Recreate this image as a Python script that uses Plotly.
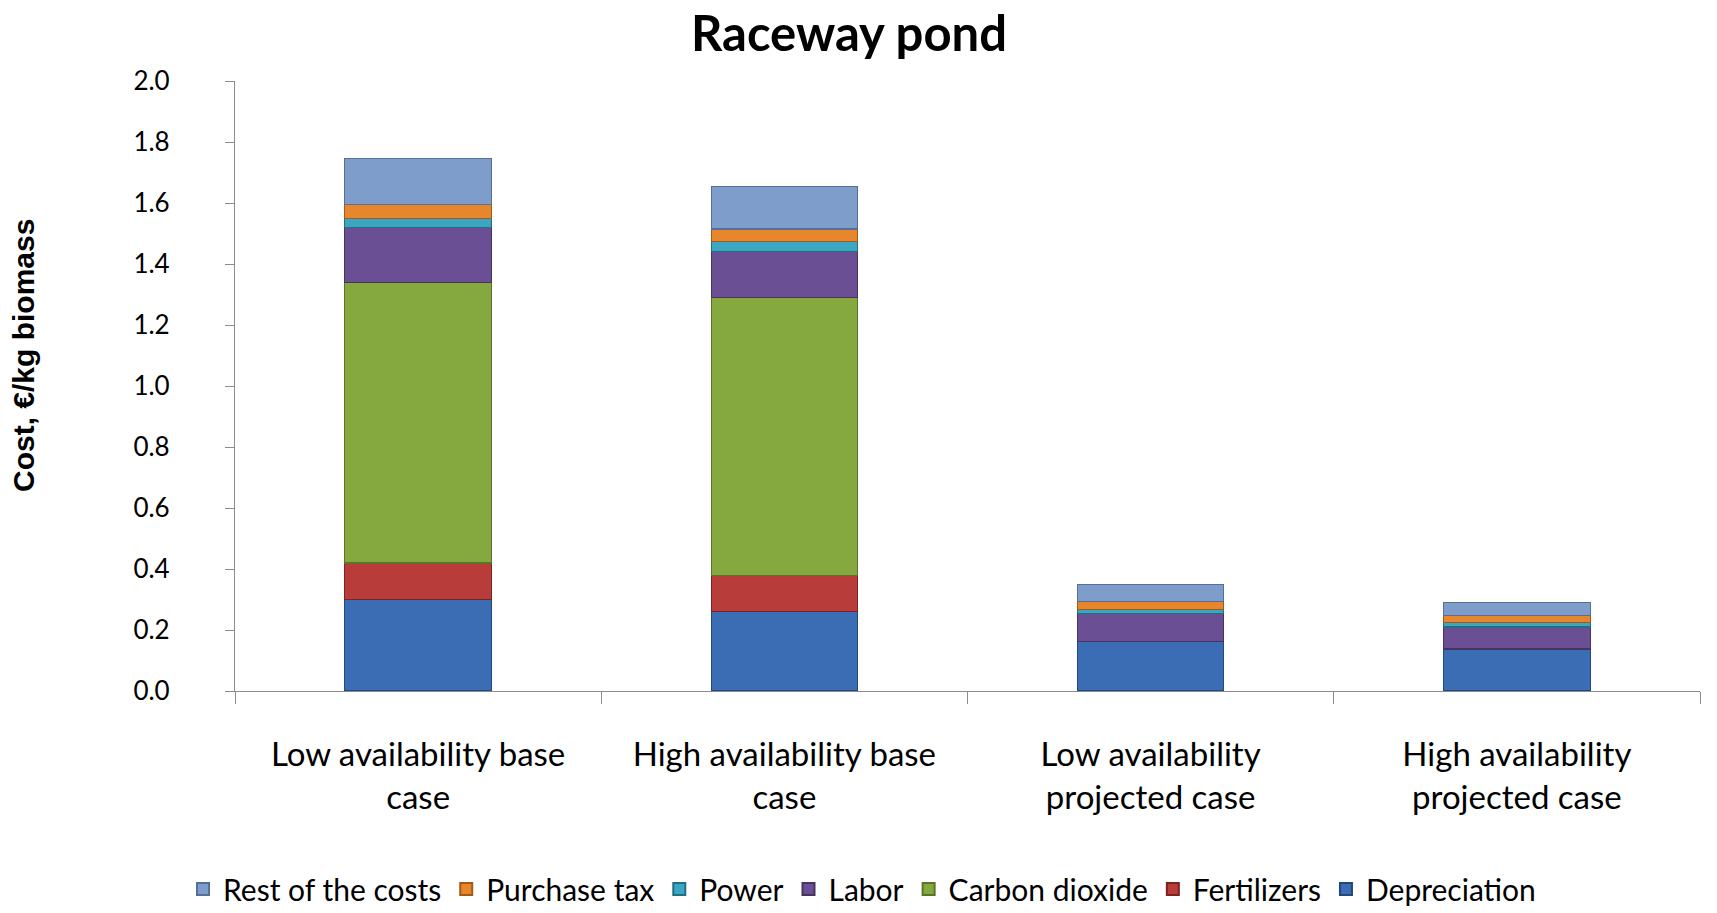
import plotly.graph_objects as go

# Cost breakdown of microalgae biomass produced in raceway ponds (€/kg biomass)
categories = [
    "Low availability base<br>case",
    "High availability base<br>case",
    "Low availability<br>projected case",
    "High availability<br>projected case",
]

depreciation = [0.30, 0.26, 0.163, 0.138]
fertilizers = [0.12, 0.12, 0.0, 0.0]
carbon_dioxide = [0.92, 0.91, 0.0, 0.0]
labor = [0.18, 0.15, 0.091, 0.072]
power = [0.03, 0.035, 0.013, 0.015]
purchase_tax = [0.046, 0.04, 0.027, 0.023]
rest_of_costs = [0.15, 0.14, 0.055, 0.043]

y_ticks = [0.0, 0.2, 0.4, 0.6, 0.8, 1.0, 1.2, 1.4, 1.6, 1.8, 2.0]

series = [
    ("Depreciation", depreciation, "#3a6db3", "#23487c"),
    ("Fertilizers", fertilizers, "#b83c39", "#7d2220"),
    ("Carbon dioxide", carbon_dioxide, "#86a93f", "#5a7528"),
    ("Labor", labor, "#6a4f94", "#46335f"),
    ("Power", power, "#3aa6c1", "#226f82"),
    ("Purchase tax", purchase_tax, "#e8862e", "#a45a17"),
    ("Rest of the costs", rest_of_costs, "#7f9dcb", "#556f98"),
]

fig = go.Figure()
for name, vals, color, edge in series:
    fig.add_trace(go.Bar(
        name=name,
        x=categories,
        y=vals,
        marker=dict(color=color, line=dict(color=edge, width=1.2)),
    ))

fig.update_layout(
    width=1717,
    height=913,
    barmode="stack",
    bargap=0.6,
    plot_bgcolor="white",
    paper_bgcolor="white",
    margin=dict(l=235, r=17, t=81, b=222),
    title=dict(
        text="<b>Raceway pond</b>",
        x=849 / 1717,
        xref="container",
        xanchor="center",
        y=1 - 34 / 913,
        yref="container",
        yanchor="middle",
        font=dict(family="Lato", size=49, color="black"),
    ),
    legend=dict(
        orientation="h",
        traceorder="reversed",
        xref="container",
        x=862 / 1717,
        xanchor="center",
        yref="container",
        y=1 - 889 / 913,
        yanchor="middle",
        font=dict(family="Lato", size=30, color="black"),
        itemwidth=30,
        itemsizing="constant",
    ),
    font=dict(family="Lato", color="black"),
)

fig.update_yaxes(
    range=[0, 2.0],
    tickvals=y_ticks,
    ticktext=[f"{v:.1f}" for v in y_ticks],
    showgrid=False,
    zeroline=False,
    showline=True,
    linecolor="#8c8c8c",
    linewidth=1.2,
    ticks="outside",
    ticklen=9,
    tickcolor="#8c8c8c",
    ticklabelstandoff=50,
    tickfont=dict(family="Lato", size=26, color="black"),
)

fig.update_xaxes(
    showgrid=False,
    showline=True,
    linecolor="#8c8c8c",
    linewidth=1.2,
    ticks="outside",
    tickson="boundaries",
    ticklen=12,
    tickcolor="#8c8c8c",
    ticklabelstandoff=34,
    tickfont=dict(family="Lato", size=33, color="black"),
)

fig.add_annotation(
    text="<b>Cost, €/kg biomass</b>",
    textangle=-90,
    xref="paper",
    yref="paper",
    x=(24 - 235) / 1465,
    y=(691 - 356) / 610,
    xanchor="center",
    yanchor="middle",
    showarrow=False,
    font=dict(family="Liberation Sans", size=30, color="black"),
)

fig.write_html("out.html")
